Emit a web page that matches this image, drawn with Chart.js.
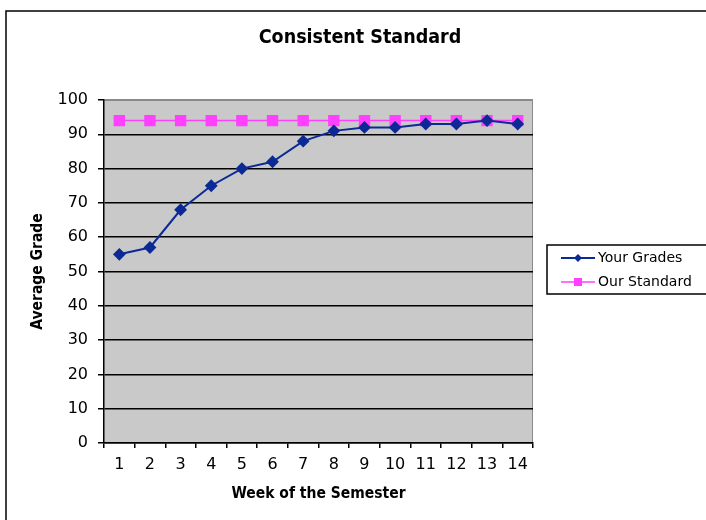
<!DOCTYPE html>
<html>
<head>
<meta charset="utf-8">
<script src="https://cdn.jsdelivr.net/npm/chart.js"></script>
<style>
  body { margin: 0; background: #fff; }
</style>
</head>
<body>
<canvas id="myChart" width="706" height="520"></canvas>

<script>
const weeks = ['1', '2', '3', '4', '5', '6', '7', '8', '9', '10', '11', '12', '13', '14'];
const yourGrades = [55, 57, 68, 75, 80, 82, 88, 91, 92, 92, 93, 93, 94, 93];
const ourStandard = [94, 94, 94, 94, 94, 94, 94, 94, 94, 94, 94, 94, 94, 94];
const seriesNames = ['Your Grades', 'Our Standard'];

const navy = '#0b2a96';
const magenta = '#ff40ff';
const narrow = '"DejaVu Sans Condensed", "Liberation Sans", Arial, sans-serif';
const plain = '"DejaVu Sans", Verdana, sans-serif';

// white page, outer frame, grey plot area
const fond = {
  id: 'fond',
  beforeDraw(chart) {
    const { ctx, chartArea: a } = chart;
    ctx.save();
    ctx.fillStyle = '#fff';
    ctx.fillRect(0, 0, chart.width, chart.height);
    ctx.strokeStyle = '#000';
    ctx.lineWidth = 1.5;
    ctx.strokeRect(6, 11, chart.width + 20, chart.height + 20);
    ctx.fillStyle = '#c9c9c9';
    ctx.fillRect(a.left, a.top, a.right - a.left, a.bottom - a.top);
    ctx.strokeStyle = '#8a8a8a';
    ctx.lineWidth = 1;
    ctx.beginPath();
    ctx.moveTo(a.left, a.top + 0.5);
    ctx.lineTo(a.right - 0.5, a.top + 0.5);
    ctx.lineTo(a.right - 0.5, a.bottom);
    ctx.stroke();
    ctx.restore();
  }
};

// legend box with line + marker samples
const legende = {
  id: 'legende',
  afterDraw(chart) {
    const { ctx, chartArea: a } = chart;
    const x = a.right + 14, y = 245, w = 170, h = 49;
    ctx.save();
    ctx.fillStyle = '#fff';
    ctx.fillRect(x, y, w, h);
    ctx.strokeStyle = '#000';
    ctx.lineWidth = 1.5;
    ctx.strokeRect(x, y, w, h);
    chart.data.datasets.forEach((ds, i) => {
      const cy = y + 13 + i * 24;
      ctx.strokeStyle = ds.borderColor;
      ctx.lineWidth = ds.borderWidth;
      ctx.beginPath();
      ctx.moveTo(x + 14, cy);
      ctx.lineTo(x + 48, cy);
      ctx.stroke();
      ctx.fillStyle = ds.pointBackgroundColor;
      ctx.beginPath();
      if (ds.pointStyle === 'rect') {
        ctx.rect(x + 27, cy - 4, 8, 8);
      } else {
        ctx.moveTo(x + 31, cy - 4);
        ctx.lineTo(x + 35, cy);
        ctx.lineTo(x + 31, cy + 4);
        ctx.lineTo(x + 27, cy);
        ctx.closePath();
      }
      ctx.fill();
      ctx.fillStyle = '#000';
      ctx.font = '14px ' + plain;
      ctx.textBaseline = 'middle';
      ctx.fillText(ds.label, x + 51, cy);
    });
    ctx.restore();
  }
};

const configChart = {
  type: 'line',
  data: {
    labels: weeks,
    datasets: [
      {
        label: seriesNames[0],
        data: yourGrades,
        borderColor: navy,
        borderWidth: 2,
        pointStyle: 'rectRot',
        pointRadius: 5,
        pointBackgroundColor: navy,
        pointBorderColor: navy,
        tension: 0
      },
      {
        label: seriesNames[1],
        data: ourStandard,
        borderColor: magenta,
        borderWidth: 1.5,
        pointStyle: 'rect',
        pointRadius: 7,
        pointBackgroundColor: magenta,
        pointBorderColor: magenta,
        tension: 0
      }
    ]
  },
  options: {
    responsive: false,
    animation: false,
    layout: { padding: { left: 14, right: 0, top: 0, bottom: 0 } },
    plugins: {
      legend: { display: false },
      tooltip: { enabled: false },
      title: {
        display: true,
        text: 'Consistent Standard',
        color: '#000',
        font: { family: narrow, size: 19.5, weight: 'bold' },
        padding: { top: 26.3, bottom: 50.3 }
      }
    },
    scales: {
      x: {
        offset: true,
        grid: { offset: true, drawOnChartArea: false, drawTicks: true, tickLength: 5, color: '#000', lineWidth: 1.5 },
        border: { color: '#000', width: 1.5 },
        ticks: { color: '#000', font: { family: plain, size: 16 }, padding: 7, maxRotation: 0, autoSkip: false },
        title: {
          display: true,
          text: 'Week of the Semester',
          color: '#000',
          font: { family: narrow, size: 15.5, weight: 'bold' },
          padding: { top: 0, bottom: 16.7 }
        },
        afterFit(scale) { scale.height = 77; }
      },
      y: {
        min: 0,
        max: 100,
        ticks: { stepSize: 10, color: '#000', font: { family: plain, size: 16 }, padding: 10 },
        grid: {
          color: (c) => (c.tick && c.tick.value === 100 ? '#8a8a8a' : '#000'),
          lineWidth: 1.5,
          tickLength: 6,
          tickColor: '#000'
        },
        border: { color: '#000', width: 1.5 },
        title: {
          display: true,
          text: 'Average Grade',
          color: '#000',
          font: { family: narrow, size: 15.5, weight: 'bold' },
          padding: { top: 14.7, bottom: 0 }
        },
        afterFit(scale) { scale.width = 90; }
      },
      place: {
        position: 'right',
        ticks: { display: false },
        grid: { display: false },
        border: { display: false },
        afterFit(scale) { scale.width = 173; }
      }
    }
  },
  plugins: [fond, legende]
};

const myChart = new Chart(document.getElementById('myChart'), configChart);
</script>
</body>
</html>
